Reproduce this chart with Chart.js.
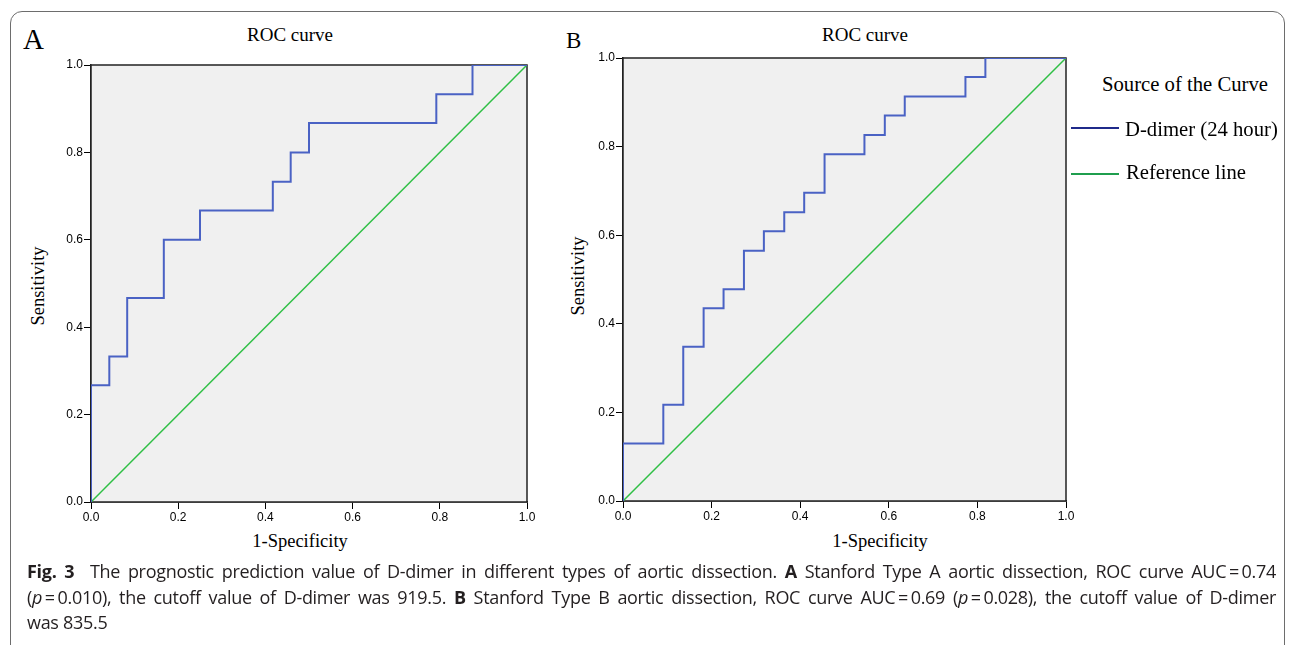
<!DOCTYPE html>
<html>
<head>
<meta charset="utf-8">
<script src="https://cdn.jsdelivr.net/npm/chart.js@4.4.0/dist/chart.umd.min.js"></script>
<style>
  body { margin: 0; width: 1293px; height: 645px; overflow: hidden; position: relative; background: #fff; font-family: "Liberation Serif", serif; color: #000; }
  .frame { position: absolute; left: 10px; top: 11px; width: 1273px; height: 720px; border: 1px solid #6d6d6d; border-radius: 12px; }
  .t { position: absolute; white-space: nowrap; line-height: 1; }
  .ctr { transform: translateX(-50%); }
  .rot { transform: translate(-50%, -50%) rotate(-90deg); }
  canvas { position: absolute; top: 0; }
  .leg { position: absolute; height: 2px; width: 48px; left: 1071px; }
  .cap { position: absolute; left: 27px; width: 1249px; font-family: "Open Sans", sans-serif; font-size: 18px; letter-spacing: -0.3px; color: #231f20; line-height: 1; white-space: nowrap; }
  .just { text-align: justify; text-align-last: justify; white-space: normal; }
</style>
</head>
<body>
<div class="frame"></div>

<div class="t" style="left:23px;top:25px;font-size:29px;">A</div>
<div class="t" style="left:566px;top:29px;font-size:23px;">B</div>
<div class="t ctr" style="left:290px;top:25px;font-size:19px;">ROC curve</div>
<div class="t ctr" style="left:865px;top:25px;font-size:19px;">ROC curve</div>
<div class="t rot" style="left:38px;top:286px;font-size:18.5px;">Sensitivity</div>
<div class="t rot" style="left:578px;top:276px;font-size:18.5px;">Sensitivity</div>
<div class="t ctr" style="left:300px;top:532px;font-size:18.5px;">1-Specificity</div>
<div class="t ctr" style="left:880px;top:532px;font-size:18.5px;">1-Specificity</div>

<canvas id="chartA" width="560" height="560" style="left:0px;"></canvas>
<canvas id="chartB" width="540" height="560" style="left:560px;"></canvas>

<div class="t" style="left:1102px;top:74px;font-size:20.7px;">Source of the Curve</div>
<div class="leg" style="top:127px;background:#1f2a8a;"></div>
<div class="t" style="left:1125px;top:119px;font-size:20.7px;">D-dimer (24 hour)</div>
<div class="leg" style="top:173px;background:#1f9e4e;"></div>
<div class="t" style="left:1126px;top:162px;font-size:20.7px;">Reference line</div>

<div class="cap just" style="top:562px;"><b>Fig. 3</b>&nbsp; The prognostic prediction value of D-dimer in different types of aortic dissection. <b>A</b> Stanford Type A aortic dissection, ROC curve AUC&#8201;=&#8201;0.74</div>
<div class="cap just" style="top:588px;">(<i>p</i>&#8201;=&#8201;0.010), the cutoff value of D-dimer was 919.5. <b>B</b> Stanford Type B aortic dissection, ROC curve AUC&#8201;=&#8201;0.69 (<i>p</i>&#8201;=&#8201;0.028), the cutoff value of D-dimer</div>
<div class="cap" style="top:613px;">was 835.5</div>

<script>
// panel A: 24 negatives, 15 positives
const fprA = [0, 0, 0.042, 0.083, 0.167, 0.25, 0.417, 0.458, 0.5, 0.792, 0.875, 1.0];
const tprA = [0, 0.267, 0.333, 0.467, 0.6, 0.667, 0.733, 0.8, 0.867, 0.933, 1.0, 1.0];
// panel B: 22 negatives, 23 positives
const fprB = [0, 0, 0.091, 0.136, 0.182, 0.227, 0.273, 0.318, 0.364, 0.409, 0.455, 0.545, 0.591, 0.636, 0.773, 0.818, 1.0];
const tprB = [0, 0.130, 0.217, 0.348, 0.435, 0.478, 0.565, 0.609, 0.652, 0.696, 0.783, 0.826, 0.870, 0.913, 0.957, 1.0, 1.0];
const refX = [0, 1];
const refY = [0, 1];
const tickVals = [0, 0.2, 0.4, 0.6, 0.8, 1.0];

function pts(xs, ys) {
  return xs.map((x, i) => ({ x: x, y: ys[i] }));
}

const plotBox = {
  id: 'plotBox',
  beforeDatasetsDraw(chart) {
    const { ctx, chartArea: a } = chart;
    ctx.save();
    ctx.fillStyle = '#f0f0f0';
    ctx.fillRect(a.left, a.top, a.width, a.height);
    ctx.strokeStyle = '#222';
    ctx.lineWidth = 1.5;
    ctx.strokeRect(a.left, a.top, a.width, a.height);
    ctx.restore();
  }
};

function axis(fit) {
  return {
    type: 'linear', min: 0, max: 1,
    afterFit: fit,
    afterBuildTicks(s) { s.ticks = tickVals.map(v => ({ value: v })); },
    ticks: {
      callback: v => v.toFixed(1),
      font: { family: 'Liberation Sans', size: 12 },
      color: '#000', padding: 1, maxRotation: 0, autoSkip: false
    },
    grid: { drawOnChartArea: false, drawTicks: true, tickLength: 7, color: '#000', lineWidth: 1 },
    border: { display: true, color: '#222', width: 1.5 }
  };
}

function makeChart(id, fpr, tpr, pad, yW) {
  new Chart(document.getElementById(id), {
    type: 'line',
    data: {
      datasets: [
        { data: pts(fpr, tpr), borderColor: '#4a62c4', borderWidth: 2, pointRadius: 0, stepped: 'before', fill: false },
        { data: pts(refX, refY), borderColor: '#2fbf45', borderWidth: 1.5, pointRadius: 0, fill: false }
      ]
    },
    options: {
      responsive: false,
      animation: false,
      events: [],
      layout: { padding: pad },
      plugins: { legend: { display: false }, tooltip: { enabled: false } },
      scales: {
        x: axis(s => { s.height = 40; }),
        y: axis(s => { s.width = yW; })
      }
    },
    plugins: [plotBox]
  });
}

makeChart('chartA', fprA, tprA, { left: 0, right: 33, top: 65, bottom: 18 }, 91);
makeChart('chartB', fprB, tprB, { left: 0, right: 34, top: 58, bottom: 19 }, 63);
</script>
</body>
</html>
